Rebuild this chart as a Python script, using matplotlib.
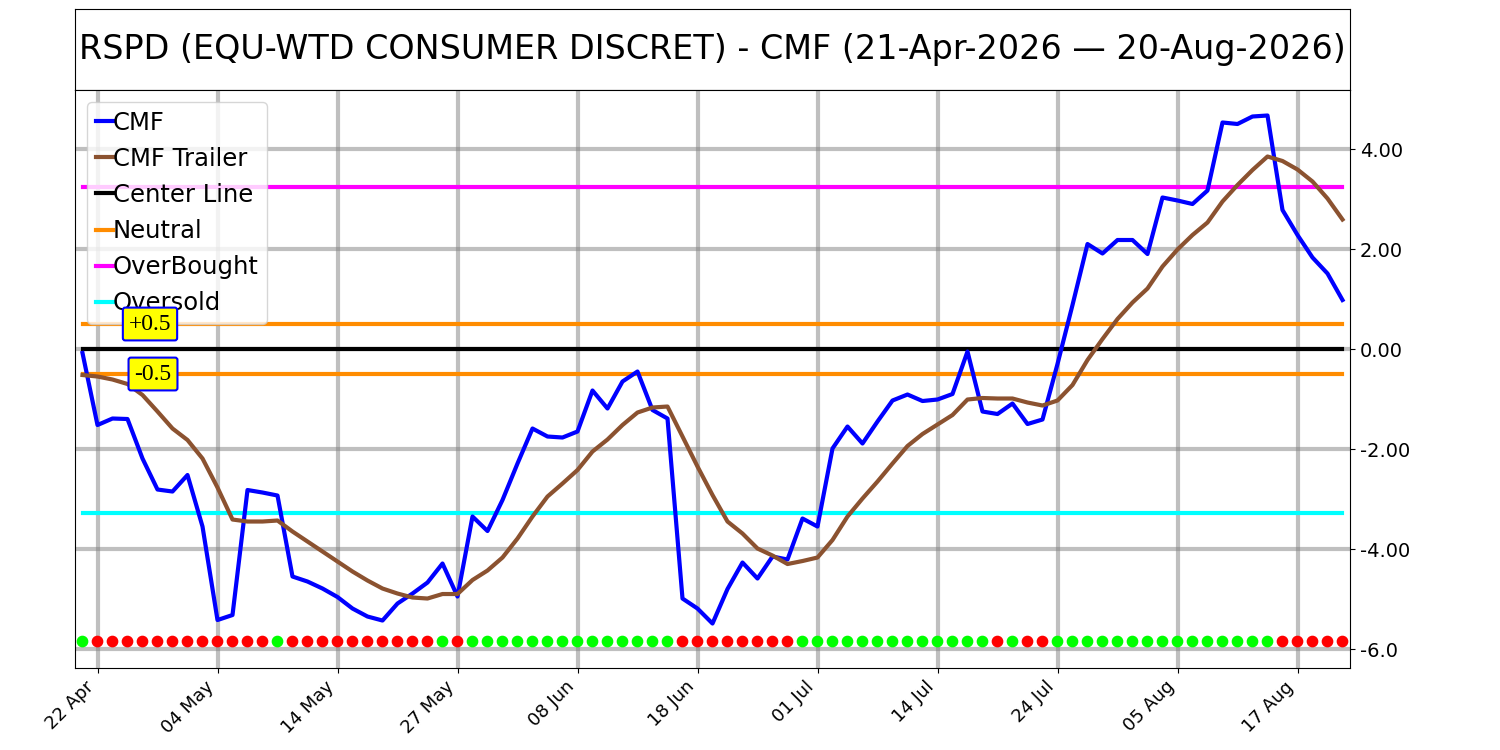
import matplotlib
matplotlib.use("Agg")
import matplotlib.pyplot as plt
import numpy as np

# data (one value per trading day, 21-Apr .. 20-Aug)
cmf = [-0.08, -1.52, -1.39, -1.40, -2.19, -2.81, -2.85, -2.52, -3.55, -5.42,
       -5.32, -2.82, -2.87, -2.93, -4.55, -4.65, -4.79, -4.96, -5.19, -5.35,
       -5.43, -5.09, -4.89, -4.67, -4.29, -4.95, -3.35, -3.64, -3.02, -2.29,
       -1.59, -1.75, -1.77, -1.65, -0.83, -1.19, -0.65, -0.45, -1.22, -1.39,
       -4.99, -5.19, -5.49, -4.80, -4.27, -4.59, -4.15, -4.21, -3.39, -3.55,
       -1.99, -1.55, -1.89, -1.45, -1.03, -0.91, -1.04, -1.01, -0.90, -0.05,
       -1.25, -1.30, -1.09, -1.50, -1.41, -0.30, 0.88, 2.10, 1.91, 2.18,
       2.18, 1.90, 3.03, 2.97, 2.90, 3.17, 4.53, 4.50, 4.65, 4.67,
       2.78, 2.28, 1.83, 1.51, 0.98]
cmf_trailer = [-0.52, -0.55, -0.61, -0.70, -0.92, -1.25, -1.59, -1.82, -2.19, -2.77,
               -3.41, -3.45, -3.45, -3.43, -3.65, -3.85, -4.05, -4.25, -4.45, -4.63,
               -4.79, -4.89, -4.97, -4.99, -4.90, -4.90, -4.62, -4.43, -4.17, -3.79,
               -3.35, -2.95, -2.69, -2.42, -2.05, -1.81, -1.52, -1.27, -1.17, -1.15,
               -1.75, -2.35, -2.92, -3.45, -3.69, -3.99, -4.13, -4.30, -4.24, -4.17,
               -3.82, -3.35, -2.99, -2.65, -2.29, -1.94, -1.70, -1.51, -1.32, -1.01,
               -0.98, -0.99, -0.99, -1.07, -1.13, -1.03, -0.72, -0.22, 0.20, 0.60,
               0.93, 1.21, 1.65, 1.99, 2.28, 2.53, 2.95, 3.28, 3.58, 3.85,
               3.76, 3.59, 3.35, 3.01, 2.59]
# signal dots along the bottom: 1 = green, 0 = red
signal = [1, 0, 0, 0, 0, 0, 0, 0, 0, 0, 0, 0, 0, 1, 0, 0, 0, 0, 0, 0,
          0, 0, 0, 0, 1, 0, 1, 1, 1, 1, 1, 1, 1, 1, 1, 1, 1, 1, 1, 1,
          0, 0, 0, 0, 0, 0, 0, 0, 1, 1, 1, 1, 1, 1, 1, 1, 1, 1, 1, 1,
          1, 0, 1, 0, 0, 1, 1, 1, 1, 1, 1, 1, 1, 1, 1, 1, 1, 1, 1, 1,
          0, 0, 0, 0, 0]
tick_labels = ['22 Apr', '04 May', '14 May', '27 May', '08 Jun', '18 Jun',
               '01 Jul', '14 Jul', '24 Jul', '05 Aug', '17 Aug']
ytick_vals = [-6, -4, -2, 0, 2, 4]
ytick_labels = ['-6.0', '-4.00', '-2.00', '0.00', '2.00', '4.00']
overbought = 3.25
oversold = -3.27
neutral = 0.5
signal_level = -5.85
title = "RSPD (EQU-WTD CONSUMER DISCRET) - CMF (21-Apr-2026 \u2014 20-Aug-2026)"

x = np.arange(len(cmf))

fig = plt.figure(figsize=(15, 7.5), dpi=100)
ax_t = fig.add_axes([0.05, 0.88, 0.85, 0.108])
ax_t.set_xticks([])
ax_t.set_yticks([])
ax_t.text(0.5, 0.5, title, ha='center', va='center', fontsize=24, transform=ax_t.transAxes)

ax = fig.add_axes([0.05, 0.1093, 0.85, 0.7707])
ax.set_axisbelow(True)
ax.grid(True, color='gray', alpha=0.5, lw=3)

ax.plot(x, cmf, color='blue', lw=3, label='CMF', zorder=4)
ax.plot(x, cmf_trailer, color='#8B5230', lw=3, label='CMF Trailer', zorder=4)
ax.axhline(0, xmin=0.006, xmax=0.994, color='black', lw=3, label='Center Line', zorder=3)
ax.axhline(neutral, xmin=0.006, xmax=0.994, color='darkorange', lw=3, label='Neutral', zorder=3)
ax.axhline(-neutral, xmin=0.006, xmax=0.994, color='darkorange', lw=3, zorder=3)
ax.axhline(overbought, xmin=0.006, xmax=0.994, color='magenta', lw=3, label='OverBought', zorder=3)
ax.axhline(oversold, xmin=0.006, xmax=0.994, color='cyan', lw=3, label='Oversold', zorder=3)

cols = ['#00FF00' if s else '#FF0000' for s in signal]
ax.scatter(x, [signal_level] * len(x), c=cols, s=55, zorder=5)

box = dict(boxstyle='round,pad=0.25,rounding_size=0.1', fc='yellow', ec='blue', lw=1.5)
ax.text(4.5, neutral, '+0.5', ha='center', va='center', fontsize=17,
        family='Liberation Serif', bbox=box, zorder=6)
ax.text(4.7, -neutral, '-0.5', ha='center', va='center', fontsize=17,
        family='Liberation Serif', bbox=box, zorder=6)

ax.set_xlim(-0.5, 84.5)
ax.set_ylim(-6.38, 5.18)
ax.set_xticks(np.arange(1, len(cmf), 8))
ax.set_xticklabels(tick_labels, rotation=45, ha='right', fontsize=13)
ax.yaxis.tick_right()
ax.set_yticks(ytick_vals)
ax.set_yticklabels(ytick_labels, fontsize=14)

leg = ax.legend(loc='upper left', fontsize=17.5, handlelength=0.7, handletextpad=0.0,
                labelspacing=0.5, borderaxespad=0.5, borderpad=0.35)
leg.set_zorder(5.5)

fig.savefig('out.png', dpi=100)
